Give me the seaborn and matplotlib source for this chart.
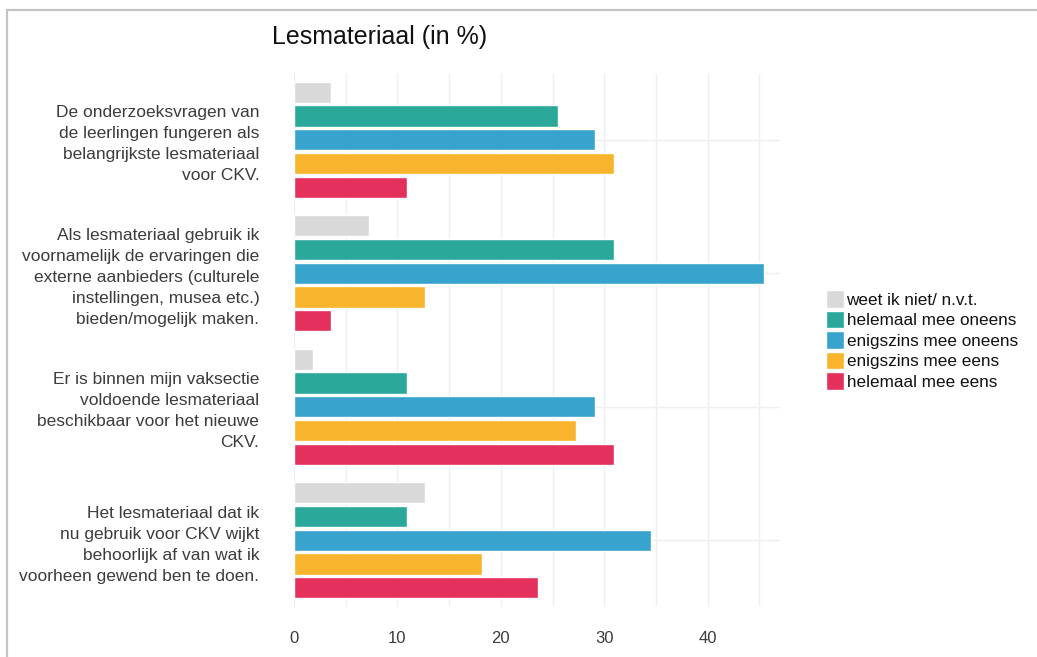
import matplotlib
matplotlib.use("Agg")
import matplotlib.pyplot as plt
import seaborn as sns
import numpy as np
import pandas as pd
from matplotlib.patches import Rectangle
from matplotlib.ticker import MultipleLocator

# data (percentages)
stellingen = [
    "De onderzoeksvragen van\nde leerlingen fungeren als\nbelangrijkste lesmateriaal\nvoor CKV.",
    "Als lesmateriaal gebruik ik\nvoornamelijk de ervaringen die\nexterne aanbieders (culturele\ninstellingen, musea etc.)\nbieden/mogelijk maken.",
    "Er is binnen mijn vaksectie\nvoldoende lesmateriaal\nbeschikbaar voor het nieuwe\nCKV.",
    "Het lesmateriaal dat ik\nnu gebruik voor CKV wijkt\nbehoorlijk af van wat ik\nvoorheen gewend ben te doen.",
]
antwoorden = ["weet ik niet/ n.v.t.", "helemaal mee oneens", "enigszins mee oneens",
              "enigszins mee eens", "helemaal mee eens"]
weet_niet = [3.6, 7.3, 1.8, 12.7]
helemaal_oneens = [25.5, 30.9, 10.9, 10.9]
enigszins_oneens = [29.1, 45.5, 29.1, 34.5]
enigszins_eens = [30.9, 12.7, 27.3, 18.2]
helemaal_eens = [10.9, 3.6, 30.9, 23.6]
kleuren = ["#d9d9d9", "#2aa99b", "#38a3cd", "#f8b42c", "#e4305d"]

reeksen = [weet_niet, helemaal_oneens, enigszins_oneens, enigszins_eens, helemaal_eens]
rows = []
for a, vals in zip(antwoorden, reeksen):
    for s, v in zip(stellingen, vals):
        rows.append({"stelling": s, "antwoord": a, "pct": v})
df = pd.DataFrame(rows)

# %%
sns.set_style("whitegrid")
plt.rcParams['font.family'] = ['Liberation Sans', 'DejaVu Sans']

fig = plt.figure(figsize=(10.37, 6.57), dpi=100)
ax = fig.add_axes([294 / 1037, 50 / 657, 486 / 1037, 534 / 657])

sns.barplot(data=df, y="stelling", x="pct", hue="antwoord", order=stellingen,
            hue_order=antwoorden, palette=kleuren, orient="h", width=0.889,
            gap=0.11, saturation=1, ax=ax)

ax.set_xlim(0, 47)
ax.set_ylim(3.5, -0.5)
ax.xaxis.set_major_locator(MultipleLocator(10))
ax.xaxis.set_minor_locator(MultipleLocator(5))
ax.grid(True, which="both", axis="x", color="#efefef", linewidth=1)
ax.grid(True, axis="y", color="#efefef", linewidth=1)
ax.set_axisbelow(True)
for sp in ax.spines.values():
    sp.set_visible(False)
ax.set_xlabel("")
ax.set_ylabel("")
ax.tick_params(axis="y", length=0, pad=25, labelsize=12.5, labelcolor="#3c3c3c")
ax.tick_params(axis="x", which="both", length=0, pad=17, labelsize=12, labelcolor="#3c3c3c")
for t in ax.get_yticklabels():
    t.set_linespacing(1.5)
    t.set_horizontalalignment("right")

leg = ax.legend(loc="center left", bbox_to_anchor=(826 / 1037, 1 - 340 / 657),
                bbox_transform=fig.transFigure, frameon=False, fontsize=12.3,
                handlelength=1.05, handleheight=1.2, handletextpad=0.15,
                labelspacing=0.17, borderpad=0, borderaxespad=0)
for t in leg.get_texts():
    t.set_color("#111111")

fig.text(272 / 1037, 1 - 44 / 657, "Lesmateriaal (in %)", fontsize=18,
         color="#111111", ha="left", va="baseline")

fig.patches.append(Rectangle((7 / 1037, -0.1), 1.2, 1 - 10 / 657 + 0.1,
                             transform=fig.transFigure, fill=False,
                             edgecolor="#c4c4c4", linewidth=1.6, zorder=0))

fig.savefig("out.png", dpi=100, facecolor="white")
